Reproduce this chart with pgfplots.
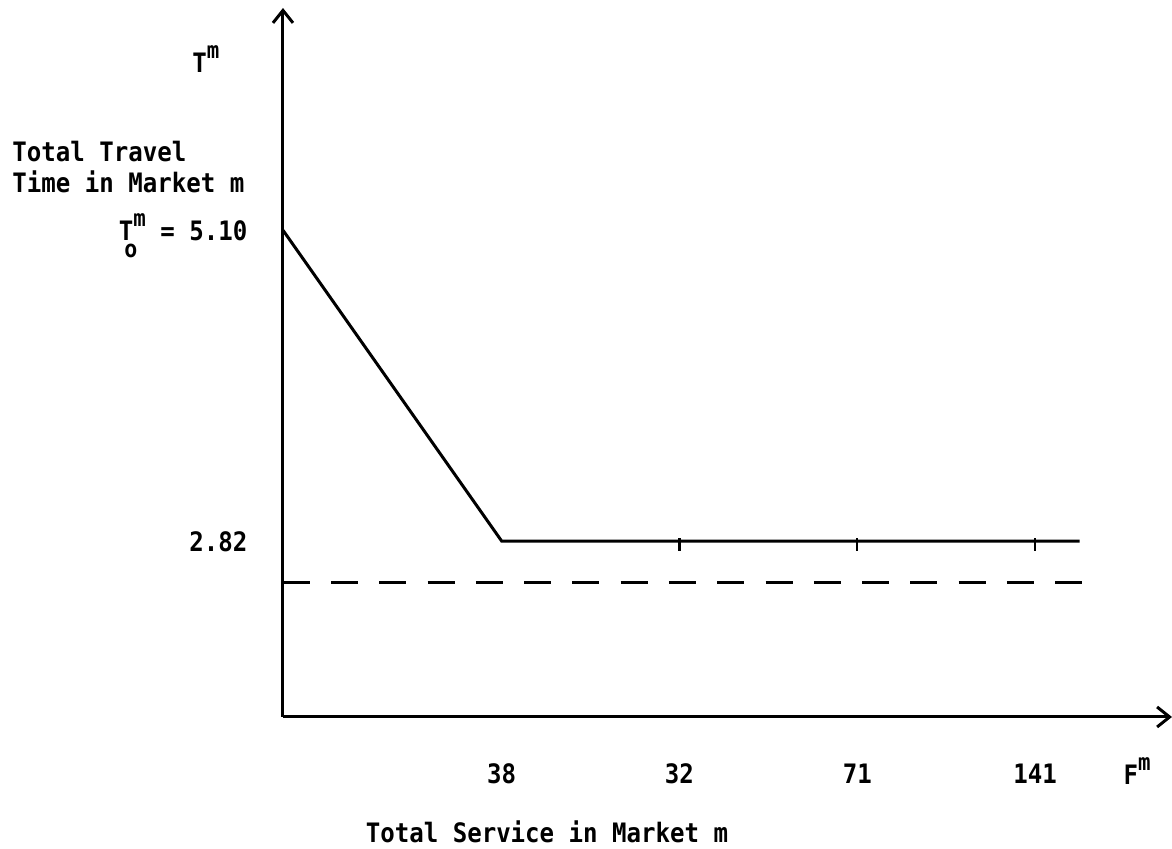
\documentclass[border=0pt]{standalone}
\usepackage{fontspec}
\setmainfont{DejaVu Sans Mono}[FakeStretch=0.9]
\usepackage{amsmath}
\usepackage{pgfplots}
\pgfplotsset{compat=1.18}
\usetikzlibrary{arrows.meta}
\newcommand{\supm}{\raisebox{5.6pt}{\fontsize{9.2}{10}\selectfont m}}
\newcommand{\subo}{\makebox[0pt][l]{\hspace{-3.6pt}\raisebox{-7pt}{\fontsize{9.6}{10}\selectfont o}}}
\begin{document}
\fontsize{10.7}{12}\selectfont\bfseries
\begin{tikzpicture}
\begin{axis}[
  scale only axis, width=355.6pt, height=283.6pt,
  xmin=-0.23, xmax=4.77, ymin=1.53, ymax=6.73,
  axis x line=bottom, axis y line=left,
  axis line style={line width=1.2pt, -{Straight Barb[length=5pt,width=8pt,line width=1.2pt]}},
  xtick={1,2,3,4}, xticklabels={38,32,71,141},
  ytick={2.82,5.10}, yticklabels={2.82,{T\subo\supm{} = 5.10}},
  major tick length=0pt,
  xticklabel style={anchor=north, yshift=-15pt},
  yticklabel style={anchor=base east, xshift=-10.5pt, yshift=-4pt},
  clip=false,
]
\addplot[line width=1.2pt] coordinates {(-0.23,5.10) (1,2.82) (4.25,2.82)};
\addplot[only marks, mark=|, mark size=2.6pt, mark options={line width=0.9pt, yshift=-1.5pt}] coordinates {(2,2.82) (3,2.82) (4,2.82)};
\addplot[line width=1.2pt, dash pattern=on 10.8pt off 8.5pt] coordinates {(-0.23,2.52) (4.27,2.52)};
\coordinate (O) at (rel axis cs:0,0);
\end{axis}
\node[anchor=base west, inner sep=0pt] at ([shift={(-108.4pt,222pt)}]O) {Total Travel};
\node[anchor=base west, inner sep=0pt] at ([shift={(-108.4pt,209.6pt)}]O) {Time in Market m};
\node[anchor=base west, inner sep=0pt] at ([shift={(-36.4pt,257.6pt)}]O) {T\supm};
\node[anchor=base west, inner sep=0pt] at ([shift={(336pt,-27.2pt)}]O) {F\supm};
\node[anchor=base, inner sep=0pt] at ([shift={(105.6pt,-50.4pt)}]O) {Total Service in Market m};
\pgfresetboundingbox
\path[use as bounding box] ([shift={(-113.2pt,-52.8pt)}]O) rectangle ([shift={(355.6pt,286.8pt)}]O);
\end{tikzpicture}
\end{document}
